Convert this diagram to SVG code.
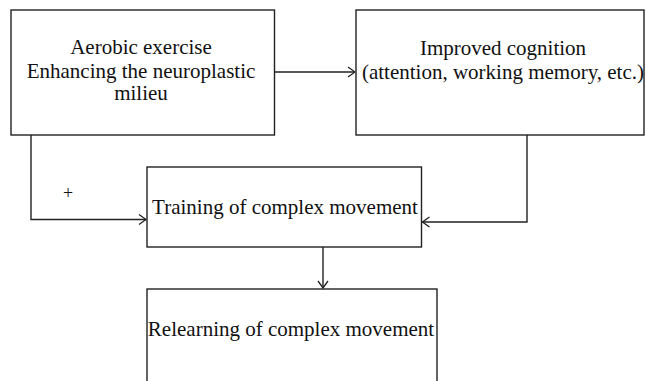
<svg xmlns="http://www.w3.org/2000/svg" width="646" height="381" viewBox="0 0 646 381">
<defs>
<style>
.box{fill:#fff;stroke:#222;stroke-width:1.4}
.t{font-family:"Liberation Serif","Times New Roman",serif;font-size:21px;fill:#111;text-anchor:middle}
.c{fill:none;stroke:#222;stroke-width:1.4}
</style>
<marker id="ah" viewBox="0 0 10 12" refX="9" refY="6" markerWidth="10" markerHeight="12" markerUnits="userSpaceOnUse" orient="auto">
<path d="M2,1 L9,6 L2,11" fill="none" stroke="#222" stroke-width="1.3"/>
</marker>
</defs>
<rect width="646" height="381" fill="#fff"/>
<g id="aerobic">
<rect class="box" x="11" y="10" width="263.5" height="125"/>
<text class="t" x="141" y="54">Aerobic exercise</text>
<text class="t" x="141" y="78">Enhancing the neuroplastic</text>
<text class="t" x="141" y="100">milieu</text>
</g>
<g id="cognition">
<rect class="box" x="356" y="10" width="288" height="125"/>
<text class="t" x="503" y="55">Improved cognition</text>
<text class="t" x="503" y="79">(attention, working memory, etc.)</text>
</g>
<g id="training">
<rect class="box" x="147" y="167" width="274.5" height="80"/>
<text class="t" x="285" y="214">Training of complex movement</text>
</g>
<g id="relearning">
<rect class="box" x="147" y="289" width="290" height="110"/>
<text class="t" x="291" y="336">Relearning of complex movement</text>
</g>
<g id="connectors">
<path class="c" d="M274.5,72 L355,72" marker-end="url(#ah)"/>
<path class="c" d="M31,135 L31,219.5 L146,219.5" marker-end="url(#ah)"/>
<path class="c" d="M527,135 L527,222 L422.5,222" marker-end="url(#ah)"/>
<path class="c" d="M323,247 L323,288" marker-end="url(#ah)"/>
<text x="68" y="199" font-family="Liberation Serif, serif" font-size="18" fill="#111" text-anchor="middle">+</text>
</g>
</svg>
